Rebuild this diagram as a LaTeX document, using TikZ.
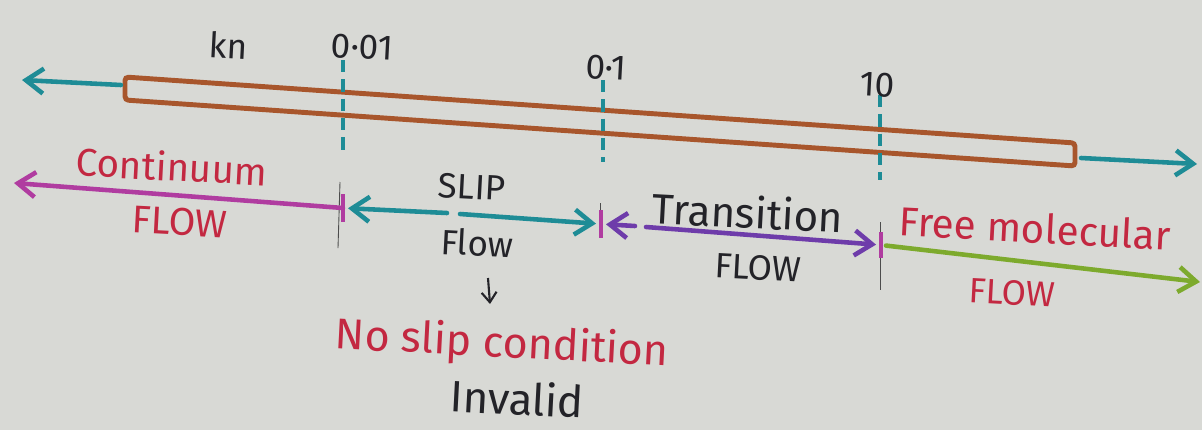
\documentclass[tikz,border=0pt]{standalone}
\usepackage{fontspec}
\setmainfont{Fira Sans}
\usetikzlibrary{arrows.meta}
\definecolor{paper}{HTML}{D8D9D5}
\definecolor{tubebrown}{HTML}{A8562C}
\definecolor{knteal}{HTML}{1E8C96}
\definecolor{knmagenta}{HTML}{B03CA0}
\definecolor{knpurple}{HTML}{6E3CAA}
\definecolor{kngreen}{HTML}{7DAA2D}
\definecolor{knred}{HTML}{C32841}
\definecolor{knink}{HTML}{232328}

\begin{document}
\begin{tikzpicture}[x=0.02cm, y=-0.02cm, >={Straight Barb[length=3.5mm, width=5mm]},
	every node/.style={inner sep=1pt, rotate=-3},
	pen/.style={line width=2.6pt, line cap=round},
	tick/.style={knteal, line width=2.8pt, dash pattern=on 7pt off 4pt},
	bar/.style={knmagenta, line width=2.4pt},
	pencil/.style={gray!60!black, line width=0.5pt},
	redtext/.style={knred, font=\fontsize{22}{24}\selectfont},
	inktext/.style={knink, font=\fontsize{20}{22}\selectfont}]
	\fill[paper] (0,0) rectangle (1202,430);
	\useasboundingbox (0,0) rectangle (1202,430);
	\draw[tubebrown, line width=2.8pt, rounded corners=2pt] (125,77) -- (1075,143) -- (1075,166) -- (125,100) -- cycle;
	\coordinate (tubeL) at (121,85);
	\coordinate (tubeR) at (1081,158);
	\coordinate (farL) at (22,80);
	\coordinate (farR) at (1197,164);
	\draw[->, pen, knteal] (tubeL) -- (farL);
	\draw[->, pen, knteal] (tubeR) -- (farR);
	\foreach \x/\ya/\yb in {343/60/155, 603/80/162, 880/95/180}
		\draw[tick] (\x,\ya) -- (\x,\yb);
	\node[inktext] (kn) at (228,45) {kn};
	\node[inktext] (k001) at (362,47) {0·01};
	\node[inktext] (k01) at (606,68) {0·1};
	\node[inktext] (k10) at (877,85) {10};
	\coordinate (b1) at (343,208);
	\coordinate (b2) at (601,224);
	\coordinate (b3) at (881,245);
	\coordinate (contEnd) at (14,183);
	\coordinate (freeEnd) at (1200,282);
	\coordinate (slipL) at (447,213);
	\coordinate (slipR) at (460,214);
	\coordinate (transL) at (635,226);
	\coordinate (transR) at (646,227);
	\draw[pencil] (340,182) -- (338,248);
	\draw[pencil] (600,203) -- (600,238);
	\draw[pencil] (880,222) -- (880,290);
	\draw[bar] (343,194) -- (343,222);
	\draw[bar] (601,210) -- (601,238);
	\draw[bar] (881,232) -- (881,258);
	\draw[->, pen, knmagenta] (b1) -- (contEnd);
	\draw[->, pen, knteal, shorten >=1mm] (slipL) -- (b1);
	\draw[->, pen, knteal, shorten >=1mm] (slipR) -- (b2);
	\draw[->, pen, knpurple, shorten >=1mm] (transL) -- (b2);
	\draw[->, pen, knpurple, shorten >=1mm] (transR) -- (b3);
	\draw[->, pen, kngreen, shorten <=1mm] (b3) -- (freeEnd);
	\node[redtext] (cont) at (172,166) {Continuum};
	\node[redtext] (contflow) at (180,222) {FLOW};
	\node[inktext] (slip) at (472,187) {SLIP};
	\node[inktext] (slipflow) at (477,243) {Flow};
	\node[inktext, font=\fontsize{24}{26}\selectfont] (trans) at (748,212) {Transition};
	\node[inktext] (transflow) at (758,268) {FLOW};
	\node[redtext, font=\fontsize{23}{25}\selectfont] (free) at (1035,228) {Free molecular};
	\node[redtext, font=\fontsize{20}{22}\selectfont] (freeflow) at (1012,293) {FLOW};
	\coordinate (nsTop) at (488,278);
	\coordinate (nsBot) at (490,304);
	\draw[->, knink, line width=1.2pt, >={Straight Barb[length=2mm, width=3mm]}] (nsTop) -- (nsBot);
	\node[redtext, font=\fontsize{24.5}{27}\selectfont] (noslip) at (502,345) {No slip condition};
	\node[inktext, font=\fontsize{25}{27}\selectfont] (invalid) at (517,398) {Invalid};
\end{tikzpicture}
\end{document}
